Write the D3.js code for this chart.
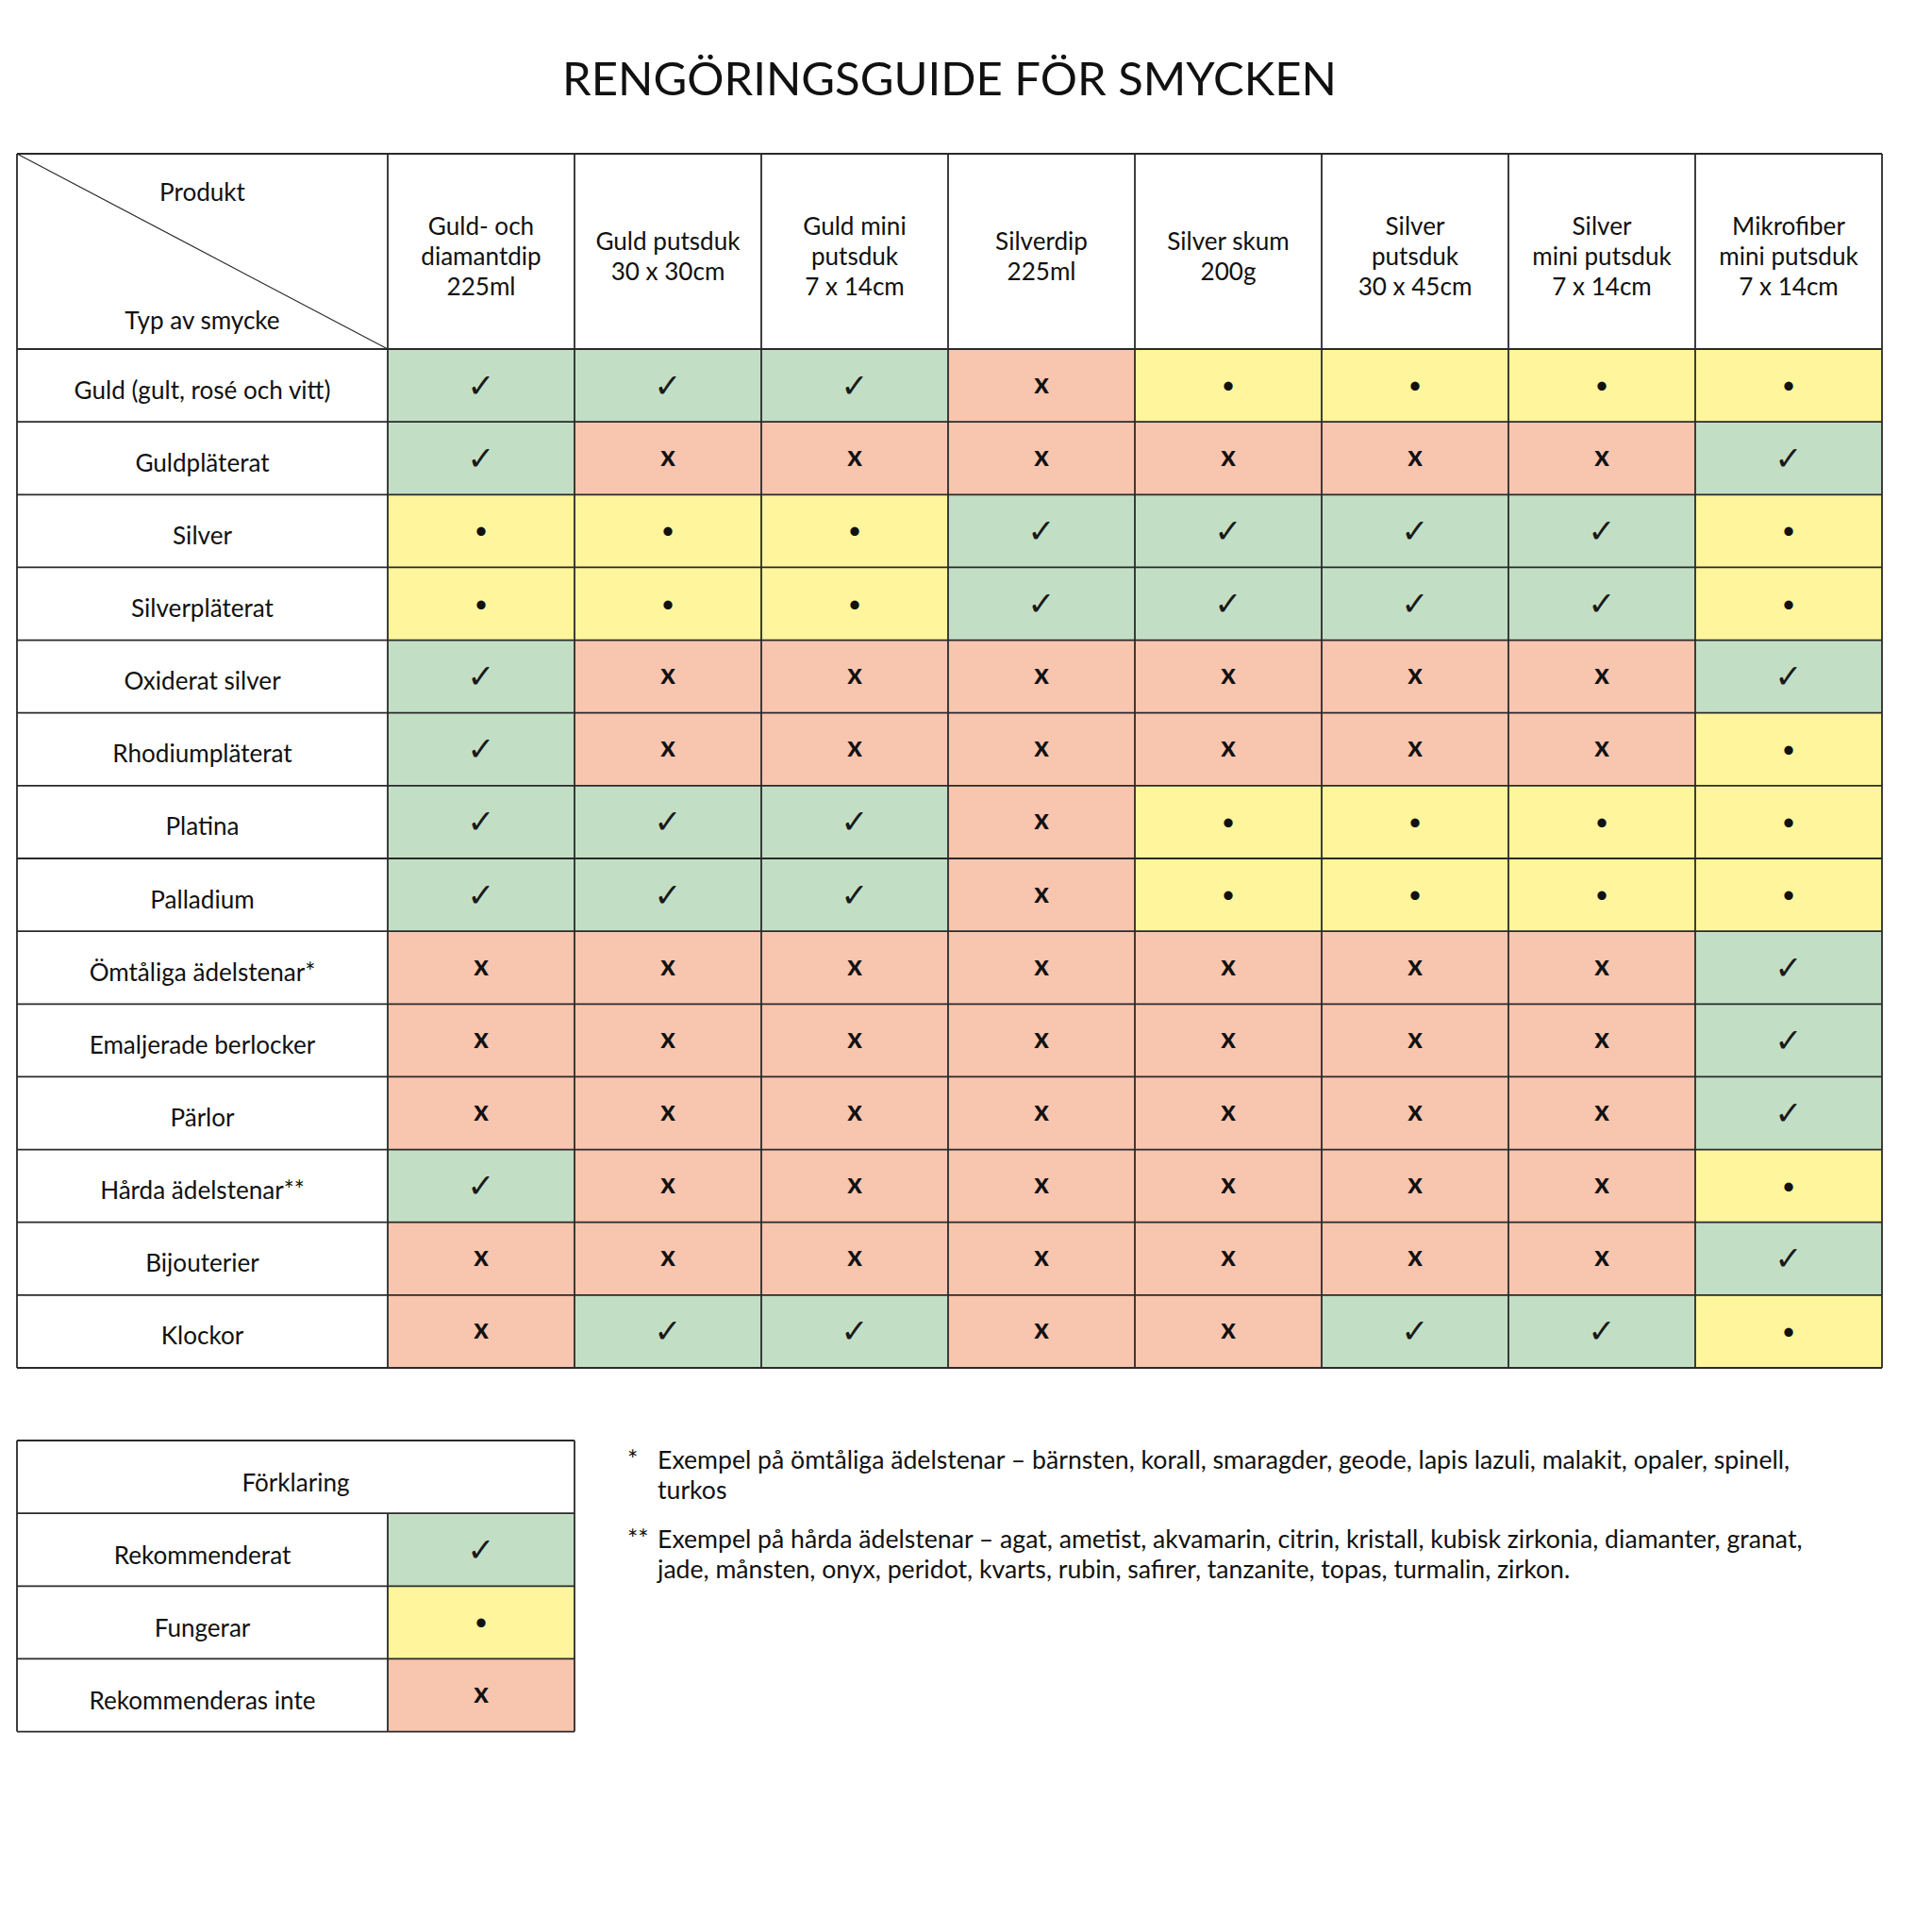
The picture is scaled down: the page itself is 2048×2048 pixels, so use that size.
<!DOCTYPE html>
<html>
<head>
<meta charset="utf-8">
<script src="https://cdn.jsdelivr.net/npm/d3@7"></script>
<style>
  body { margin: 0; background: #fff; }
</style>
</head>
<body>
<div id="chart"></div>
<script>
const width = 2048;
const height = 2048;

// data
const title = "RENGÖRINGSGUIDE FÖR SMYCKEN";
const cornerTop = "Produkt";
const cornerBottom = "Typ av smycke";

const products = [
  ["Guld- och", "diamantdip", "225ml"],
  ["Guld putsduk", "30 x 30cm"],
  ["Guld mini", "putsduk", "7 x 14cm"],
  ["Silverdip", "225ml"],
  ["Silver skum", "200g"],
  ["Silver", "putsduk", "30 x 45cm"],
  ["Silver", "mini putsduk", "7 x 14cm"],
  ["Mikrofiber", "mini putsduk", "7 x 14cm"]
];

const jewelry = [
  "Guld (gult, rosé och vitt)",
  "Guldpläterat",
  "Silver",
  "Silverpläterat",
  "Oxiderat silver",
  "Rhodiumpläterat",
  "Platina",
  "Palladium",
  "Ömtåliga ädelstenar*",
  "Emaljerade berlocker",
  "Pärlor",
  "Hårda ädelstenar**",
  "Bijouterier",
  "Klockor"
];

// y = rekommenderat, f = fungerar, n = rekommenderas inte
const ratings = [
  ["y", "y", "y", "n", "f", "f", "f", "f"],
  ["y", "n", "n", "n", "n", "n", "n", "y"],
  ["f", "f", "f", "y", "y", "y", "y", "f"],
  ["f", "f", "f", "y", "y", "y", "y", "f"],
  ["y", "n", "n", "n", "n", "n", "n", "y"],
  ["y", "n", "n", "n", "n", "n", "n", "f"],
  ["y", "y", "y", "n", "f", "f", "f", "f"],
  ["y", "y", "y", "n", "f", "f", "f", "f"],
  ["n", "n", "n", "n", "n", "n", "n", "y"],
  ["n", "n", "n", "n", "n", "n", "n", "y"],
  ["n", "n", "n", "n", "n", "n", "n", "y"],
  ["y", "n", "n", "n", "n", "n", "n", "f"],
  ["n", "n", "n", "n", "n", "n", "n", "y"],
  ["n", "y", "y", "n", "n", "y", "y", "f"]
];

const legendTitle = "Förklaring";
const legendLabels = ["Rekommenderat", "Fungerar", "Rekommenderas inte"];
const legendCodes = ["y", "f", "n"];

const noteMarks = ["*", "**"];
const noteLines = [
  ["Exempel på ömtåliga ädelstenar – bärnsten, korall, smaragder, geode, lapis lazuli, malakit, opaler, spinell,", "turkos"],
  ["Exempel på hårda ädelstenar – agat, ametist, akvamarin, citrin, kristall, kubisk zirkonia, diamanter, granat,", "jade, månsten, onyx, peridot, kvarts, rubin, safirer, tanzanite, topas, turmalin, zirkon."]
];

const codes = ["y", "f", "n"];
const fill = d3.scaleOrdinal().domain(codes).range(["#c2dfc5", "#fef59d", "#f8c5af"]);
const symbol = d3.scaleOrdinal().domain(codes).range(["\u2713", "\u2022", "x"]);

const font = "Lato, 'Noto Sans', sans-serif";
const lineColor = "#2a2a2a";

const svg = d3.select("#chart").append("svg")
  .attr("width", width)
  .attr("height", height)
  .style("background", "#fff");

// pick font sizes so that text widths match the picture
function measure(str, size, weight) {
  const t = svg.append("text")
    .attr("font-family", font)
    .attr("font-size", size)
    .attr("font-weight", weight || 400)
    .text(str);
  const w = t.node().getComputedTextLength();
  t.remove();
  return w;
}
const bodySize = 26 * 272 / measure(jewelry[0], 26);
const titleSize = 56 * 821 / measure(title, 56);
const noteSize = 26 * 1201 / measure(noteLines[0][0], 26);

// layout
const tLeft = 18, labelRight = 411, tRight = 1995;
const tTop = 163, headBottom = 370, tBottom = 1450;

const x = d3.scaleBand().domain(d3.range(products.length)).range([labelRight, tRight]);
const y = d3.scaleBand().domain(jewelry).range([headBottom, tBottom]);
const rowH = y.bandwidth();

// title
svg.append("text")
  .attr("x", (tLeft + tRight) / 2)
  .attr("y", 101)
  .attr("text-anchor", "middle")
  .attr("font-family", font)
  .attr("font-size", titleSize)
  .attr("fill", "#111")
  .text(title);

// cells
const cells = svg.append("g");
jewelry.forEach((row, i) => {
  cells.selectAll(null)
    .data(ratings[i])
    .enter().append("rect")
    .attr("x", (d, j) => x(j))
    .attr("y", y(row))
    .attr("width", x.bandwidth())
    .attr("height", rowH)
    .attr("fill", d => fill(d));
});

function drawSymbol(g, code, cx, cy) {
  if (code === "y") {
    g.append("text").attr("x", cx).attr("y", cy + 12)
      .attr("text-anchor", "middle")
      .attr("font-family", "'DejaVu Sans', sans-serif")
      .attr("font-size", 35)
      .attr("fill", "#1a1a1a")
      .text(symbol(code));
  } else if (code === "f") {
    g.append("text").attr("x", cx).attr("y", cy + 8.5)
      .attr("text-anchor", "middle")
      .attr("font-family", font)
      .attr("font-size", 25)
      .attr("fill", "#111")
      .text(symbol(code));
  } else {
    g.append("text").attr("x", cx).attr("y", cy + 8)
      .attr("text-anchor", "middle")
      .attr("font-family", font)
      .attr("font-weight", 700)
      .attr("font-size", 30)
      .attr("fill", "#111")
      .text(symbol(code));
  }
}

const marks = svg.append("g");
jewelry.forEach((row, i) => {
  ratings[i].forEach((code, j) => {
    drawSymbol(marks, code, x(j) + x.bandwidth() / 2, y(row) + rowH / 2);
  });
});

// row labels
svg.append("g").selectAll("text")
  .data(jewelry)
  .enter().append("text")
  .attr("x", (tLeft + labelRight) / 2)
  .attr("y", d => y(d) + rowH / 2 + 14)
  .attr("text-anchor", "middle")
  .attr("font-family", font)
  .attr("font-size", bodySize)
  .attr("fill", "#111")
  .text(d => d);

// column headers
const headMid = (tTop + headBottom) / 2;
const lineH = 32;
const heads = svg.append("g").selectAll("text")
  .data(products)
  .enter().append("text")
  .attr("text-anchor", "middle")
  .attr("font-family", font)
  .attr("font-size", bodySize)
  .attr("fill", "#111");
heads.selectAll("tspan")
  .data((d, j) => d.map((s, k) => ({ s, k, n: d.length, j })))
  .enter().append("tspan")
  .attr("x", d => x(d.j) + x.bandwidth() / 2)
  .attr("y", d => headMid + (d.k - (d.n - 1) / 2) * lineH + 14)
  .text(d => d.s);

// corner cell
svg.append("line")
  .attr("x1", tLeft).attr("y1", tTop)
  .attr("x2", labelRight).attr("y2", headBottom)
  .attr("stroke", lineColor)
  .attr("stroke-width", 1.2);
svg.append("text")
  .attr("x", (tLeft + labelRight) / 2).attr("y", 213)
  .attr("text-anchor", "middle")
  .attr("font-family", font).attr("font-size", bodySize).attr("fill", "#111")
  .text(cornerTop);
svg.append("text")
  .attr("x", (tLeft + labelRight) / 2).attr("y", 349)
  .attr("text-anchor", "middle")
  .attr("font-family", font).attr("font-size", bodySize).attr("fill", "#111")
  .text(cornerBottom);

// grid lines
const grid = svg.append("g")
  .attr("stroke", lineColor)
  .attr("stroke-width", 1.8)
  .attr("fill", "none");
grid.selectAll("line.h")
  .data([tTop, headBottom].concat(jewelry.map(d => y(d) + rowH)))
  .enter().append("line")
  .attr("x1", tLeft).attr("x2", tRight)
  .attr("y1", d => d).attr("y2", d => d);
grid.selectAll("line.v")
  .data([tLeft, labelRight].concat(d3.range(products.length).map(j => x(j) + x.bandwidth())))
  .enter().append("line")
  .attr("x1", d => d).attr("x2", d => d)
  .attr("y1", tTop).attr("y2", tBottom);

// legend
const legTop = 1527;
const legY = d3.scaleBand().domain(d3.range(legendLabels.length + 1))
  .range([legTop, legTop + rowH * (legendLabels.length + 1)]);
const legRight = labelRight + x.bandwidth();
const leg = svg.append("g");

leg.selectAll("rect")
  .data(legendCodes)
  .enter().append("rect")
  .attr("x", labelRight)
  .attr("y", (d, i) => legY(i + 1))
  .attr("width", x.bandwidth())
  .attr("height", rowH)
  .attr("fill", d => fill(d));

legendCodes.forEach((code, i) => {
  drawSymbol(leg, code, labelRight + x.bandwidth() / 2, legY(i + 1) + rowH / 2);
});

leg.append("text")
  .attr("x", (tLeft + legRight) / 2)
  .attr("y", legY(0) + rowH / 2 + 15)
  .attr("text-anchor", "middle")
  .attr("font-family", font).attr("font-size", bodySize).attr("fill", "#111")
  .text(legendTitle);

leg.selectAll("text.lab")
  .data(legendLabels)
  .enter().append("text")
  .attr("x", (tLeft + labelRight) / 2)
  .attr("y", (d, i) => legY(i + 1) + rowH / 2 + 15)
  .attr("text-anchor", "middle")
  .attr("font-family", font).attr("font-size", bodySize).attr("fill", "#111")
  .text(d => d);

const legGrid = leg.append("g")
  .attr("stroke", lineColor)
  .attr("stroke-width", 1.8);
legGrid.selectAll("line.h")
  .data(d3.range(legendLabels.length + 2).map(i => legTop + i * rowH))
  .enter().append("line")
  .attr("x1", tLeft).attr("x2", legRight)
  .attr("y1", d => d).attr("y2", d => d);
legGrid.append("line")
  .attr("x1", tLeft).attr("x2", tLeft)
  .attr("y1", legTop).attr("y2", legTop + rowH * 4);
legGrid.append("line")
  .attr("x1", legRight).attr("x2", legRight)
  .attr("y1", legTop).attr("y2", legTop + rowH * 4);
legGrid.append("line")
  .attr("x1", labelRight).attr("x2", labelRight)
  .attr("y1", legTop + rowH).attr("y2", legTop + rowH * 4);

// footnotes
const noteTops = [1557, 1641];
const noteLineH = 31.5;
noteMarks.forEach((m, i) => {
  svg.append("text")
    .attr("x", 665).attr("y", noteTops[i])
    .attr("font-family", font).attr("font-size", noteSize).attr("fill", "#111")
    .text(m);
  svg.append("g").selectAll("text")
    .data(noteLines[i])
    .enter().append("text")
    .attr("x", 697)
    .attr("y", (d, k) => noteTops[i] + k * noteLineH)
    .attr("font-family", font).attr("font-size", noteSize).attr("fill", "#111")
    .text(d => d);
});
</script>
</body>
</html>
